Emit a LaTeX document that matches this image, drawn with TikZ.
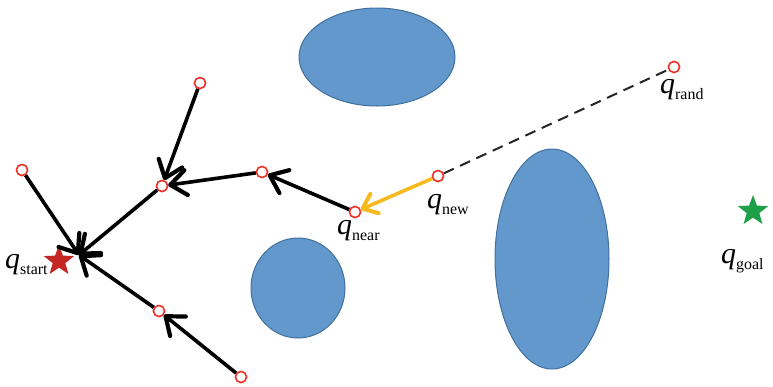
\documentclass[tikz,border=0pt]{standalone}
\usepackage{fontspec}
\setmainfont{Liberation Serif}
\usetikzlibrary{arrows.meta,shapes.geometric}
\definecolor{obst}{RGB}{98,152,204}
\definecolor{obstline}{RGB}{66,112,158}
\definecolor{nodered}{RGB}{240,50,40}
\definecolor{startred}{RGB}{196,38,36}
\definecolor{goalgreen}{RGB}{30,160,72}
\definecolor{newyellow}{RGB}{246,186,30}
\newcommand{\qlab}[1]{{\fontsize{30}{30}\selectfont\itshape q}\raisebox{-6bp}{\fontsize{16}{16}\selectfont #1}}
\tikzset{
  vtx/.style={circle,draw=nodered,line width=1.5bp,fill=white,minimum size=11bp,inner sep=0pt},
  obstacle/.style={fill=obst,draw=obstline,line width=1bp},
  edge/.style={line width=3.6bp,black,-{Straight Barb[length=16bp,width=25bp,line width=4.2bp,round]}},
  star5/.style={star,star points=5,star point ratio=2.4,inner sep=0pt,minimum size=32bp},
  lab/.style={inner sep=0pt,anchor=base west}
}
\begin{document}
\begin{tikzpicture}[x=1bp,y=-1bp]
\useasboundingbox (0,0) rectangle (773,386);
% obstacles
\draw[obstacle] (377,57) ellipse [x radius=78, y radius=49];
\draw[obstacle] (298,288) ellipse [x radius=47, y radius=50];
\draw[obstacle] (552,259) ellipse [x radius=57, y radius=110];
% root
\node[star5,fill=startred] (start) at (59,261) {};
\coordinate (hub) at (79,255);
% vertices
\node[vtx] (a) at (200,83) {};
\node[vtx] (b) at (162,186) {};
\node[vtx] (c) at (262,172) {};
\node[vtx] (near) at (355,212) {};
\node[vtx] (new) at (438,176) {};
\node[vtx] (rand) at (674,67) {};
\node[vtx] (l) at (22,170) {};
\node[vtx] (m) at (159,311) {};
\node[vtx] (d) at (241,377) {};
\node[star5,fill=goalgreen] (goal) at (753,211) {};
% edges
\draw[edge] (a) -- (b);
\draw[edge] (c) -- (b);
\draw[edge] (near) -- (c);
\draw[edge] (b) -- (hub);
\draw[edge] (l) -- (hub);
\draw[edge] (m) -- (hub);
\draw[edge] (d) -- (m);
\draw[line width=3.6bp,newyellow,-{Straight Barb[length=13bp,width=21bp,line width=4bp,round]}] (new) -- (near);
\draw[line width=2bp,black!85,dash pattern=on 11bp off 7bp] (new) -- (rand);
% redraw vertices on top
\foreach \v in {a,b,c,near,new,rand,l,m,d} \node[vtx] at (\v) {};
% labels
\node[lab] (ls) at (5,268) {\qlab{start}};
\node[lab] (ln) at (337,234) {\qlab{near}};
\node[lab] (lw) at (427,208) {\qlab{new}};
\node[lab] (lr) at (660,93) {\qlab{rand}};
\node[lab] (lg) at (721,263) {\qlab{goal}};
\end{tikzpicture}
\end{document}
